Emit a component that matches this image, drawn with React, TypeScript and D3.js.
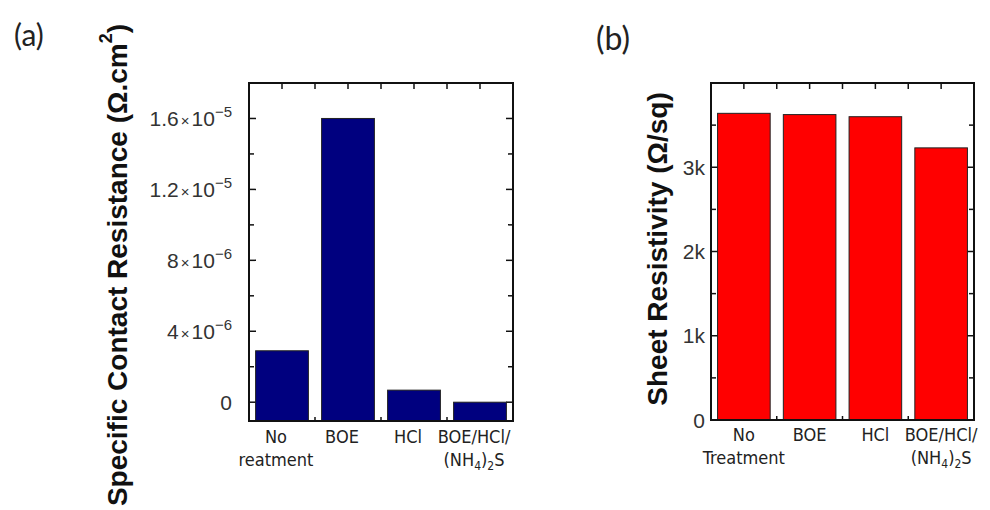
import React from "react";
import * as d3 from "d3";

const categoriesA = ["No\nreatment", "BOE", "HCl", "BOE/HCl/\n(NH4)2S"];
const contactResistance = [2.9e-6, 1.6e-5, 0.68e-6, 0];
const ticksA = [0, 4e-6, 8e-6, 1.2e-5, 1.6e-5];
const minorTicksA = [2e-6, 6e-6, 1e-5, 1.4e-5];

const categoriesB = ["No\nTreatment", "BOE", "HCl", "BOE/HCl/\n(NH4)2S"];
const sheetResistivity = [3640, 3625, 3600, 3230];
const ticksB = [0, 1000, 2000, 3000];
const tickLabelsB = ["0", "1k", "2k", "3k"];
const minorTicksB = [500, 1500, 2500, 3500];

const CAT_FONT = "'DejaVu Sans Condensed', 'DejaVu Sans', sans-serif";
const NUM_FONT = "'Liberation Sans', Arial, sans-serif";

function sciLabel(v: number) {
  if (v === 0) return [<tspan key="m">0</tspan>];
  const exp = Math.floor(Math.log10(Math.abs(v)) + 1e-9);
  const mant = +(v / Math.pow(10, exp)).toFixed(1);
  return [
    <tspan key="m">{String(mant)}</tspan>,
    <tspan key="x" fontSize={15} dx={2}>×</tspan>,
    <tspan key="t" dx={2}>10</tspan>,
    <tspan key="e" fontSize={15} dy={-9}>{"−" + String(-exp)}</tspan>,
  ];
}

function catLine(line: string, key: number, x: number, y: number, dx: number) {
  if (line.startsWith("(NH")) {
    return (
      <text key={key} x={x + dx} y={y} textAnchor="middle" fontFamily={CAT_FONT} fontSize={18} fill="#222">
        <tspan>(NH</tspan>
        <tspan fontSize={12} dy={4}>4</tspan>
        <tspan dy={-4}>)</tspan>
        <tspan fontSize={12} dy={4}>2</tspan>
        <tspan dy={-4}>S</tspan>
      </text>
    );
  }
  return (
    <text key={key} x={x + dx} y={y} textAnchor="middle" fontFamily={CAT_FONT} fontSize={18} fill="#222">
      {line}
    </text>
  );
}

type PanelProps = {
  x0: number; x1: number; yTop: number; yBottom: number;
  domain: [number, number];
  categories: string[]; values: number[]; color: string;
  ticks: number[]; minor: number[];
  renderTick: (v: number, i: number) => React.ReactNode;
  labelGap: number; tickFont: number;
  labelDx: number; labelY1: number; labelY2: number;
};

function Panel(p: PanelProps) {
  const x = d3.scaleBand<number>().domain(p.categories.map((_, i) => i)).range([p.x0, p.x1]).paddingInner(0.2).paddingOuter(0.1);
  const y = d3.scaleLinear().domain(p.domain).range([p.yBottom, p.yTop]);
  const bw = x.bandwidth();
  const centers = p.categories.map((_, i) => (x(i) as number) + bw / 2);
  const mids = centers.slice(0, -1).map((c, i) => (c + centers[i + 1]) / 2);
  const topTicks = [...centers, ...mids];
  const L = 7, Lm = 5;
  return (
    <g>
      {topTicks.map((t, i) => (
        <line key={"tt" + i} x1={t} x2={t} y1={p.yTop} y2={p.yTop + 6} stroke="#111" strokeWidth={1.5} />
      ))}
      {topTicks.map((t, i) => (
        <line key={"bt" + i} x1={t} x2={t} y1={p.yBottom} y2={p.yBottom - 4} stroke="#111" strokeWidth={1.5} />
      ))}
      {p.ticks.map((t, i) => (
        <g key={"yt" + i}>
          <line x1={p.x0} x2={p.x0 + L} y1={y(t)} y2={y(t)} stroke="#111" strokeWidth={1.5} />
          <line x1={p.x1} x2={p.x1 - L} y1={y(t)} y2={y(t)} stroke="#111" strokeWidth={1.5} />
        </g>
      ))}
      {p.minor.map((t, i) => (
        <g key={"ym" + i}>
          <line x1={p.x0} x2={p.x0 + Lm} y1={y(t)} y2={y(t)} stroke="#111" strokeWidth={1.5} />
          <line x1={p.x1} x2={p.x1 - Lm} y1={y(t)} y2={y(t)} stroke="#111" strokeWidth={1.5} />
        </g>
      ))}
      {p.values.map((v, i) => (
        <rect key={"b" + i} x={x(i)} y={y(v)} width={bw} height={p.yBottom - y(v)} fill={p.color} stroke="#222" strokeWidth={1} />
      ))}
      <rect x={p.x0} y={p.yTop} width={p.x1 - p.x0} height={p.yBottom - p.yTop} fill="none" stroke="#111" strokeWidth={2} />
      {p.ticks.map((t, i) => (
        <text key={"tl" + i} x={p.x0 - p.labelGap} y={y(t) + 7.5} textAnchor="end" fontFamily={NUM_FONT} fontSize={p.tickFont} fill="#333">
          {p.renderTick(t, i)}
        </text>
      ))}
      {p.categories.map((c, i) =>
        c.split("\n").map((line, j) => catLine(line, i * 10 + j, centers[i], j === 0 ? p.labelY1 : p.labelY2, p.labelDx))
      )}
    </g>
  );
}

export default function App() {
  return (
    <svg width={990} height={510} style={{ position: "absolute", left: 0, top: 0, background: "#fff" }}>
      <rect width={990} height={510} fill="#fff" />
      <text x={14} y={46} fontFamily="Lato, 'Open Sans', sans-serif" fontSize={30} fill="#222">(a)</text>
      <text x={596} y={50} fontFamily="Lato, 'Open Sans', sans-serif" fontSize={32} fill="#222">(b)</text>

      <Panel
        x0={249} x1={513} yTop={83} yBottom={421}
        domain={[-1.06e-6, 1.8e-5]}
        categories={categoriesA} values={contactResistance} color="#00007f"
        ticks={ticksA} minor={minorTicksA}
        renderTick={(v) => sciLabel(v)}
        labelGap={17} tickFont={21}
        labelDx={-6} labelY1={443} labelY2={466}
      />
      <text transform="translate(117,265) rotate(-90)" textAnchor="middle" dominantBaseline="central"
        fontFamily={NUM_FONT} fontWeight="bold" fontSize={28} fill="#111">
        <tspan>Specific Contact Resistance (Ω.cm</tspan>
        <tspan fontSize={18} dy={-11}>2</tspan>
        <tspan dy={11}>)</tspan>
      </text>

      <Panel
        x0={711} x1={974} yTop={83} yBottom={420}
        domain={[0, 4000]}
        categories={categoriesB} values={sheetResistivity} color="#ff0000"
        ticks={ticksB} minor={minorTicksB}
        renderTick={(_, i) => tickLabelsB[i]}
        labelGap={6} tickFont={21}
        labelDx={0} labelY1={441} labelY2={464}
      />
      <text transform="translate(657,249) rotate(-90)" textAnchor="middle" dominantBaseline="central"
        fontFamily={NUM_FONT} fontWeight="bold" fontSize={28} fill="#111">
        Sheet Resistivity (Ω/sq)
      </text>
    </svg>
  );
}
